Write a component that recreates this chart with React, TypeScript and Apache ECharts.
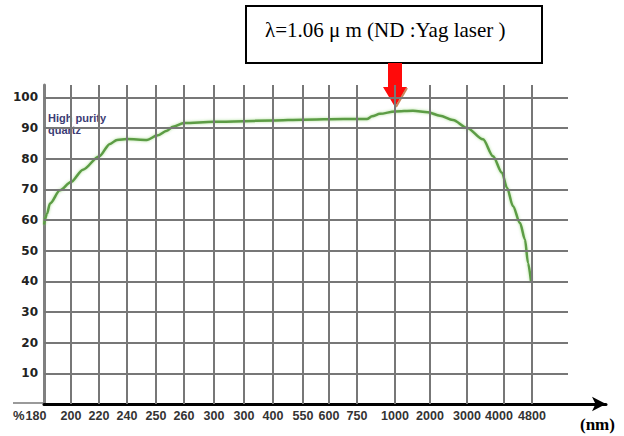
import React, { useEffect, useRef } from "react";
import * as echarts from "echarts";

// Wavelength labels printed under the vertical grid lines (nm)
const wavelengthLabels = [
  "180", "200", "220", "240", "250", "260", "300", "300", "400",
  "550", "600", "750", "1000", "2000", "3000", "4000", "4800",
];
// Position of each wavelength mark along the (non-linear) printed scale
const wavelengthMarks = [0, 27, 55, 83, 112, 140, 170, 200, 229, 259, 285, 313, 351, 386, 423, 460, 488];

// Transmission curve of high purity quartz: scale position -> transmission (%)
const curvePos = [
  0, 3, 6, 16, 27, 39, 55, 66, 73, 83, 103, 113, 123, 129, 140, 170, 229, 259,
  300, 323, 328, 336, 351, 369, 384, 396, 409, 423, 439, 449, 458, 463, 469, 476, 481, 484, 487,
];
const transmission = [
  58.5, 62, 65.4, 69.7, 72.4, 76.4, 80.7, 84.8, 86.1, 86.4, 86.1, 87.5, 89.1, 90.4, 91.6, 92.0, 92.4, 92.7,
  92.9, 92.9, 93.8, 94.6, 95.4, 95.6, 95.1, 94.0, 92.6, 90.0, 86.3, 80.8, 75.4, 70.5, 64.5, 59, 53.6, 46, 40,
];

// Horizontal grid levels (%)
const percentLevels = [10, 20, 30, 40, 50, 60, 70, 80, 90, 100];

const SCALE_MAX = 562;
const GRID_END = 524;
const Y_MAX = 104;

export default function App() {
  const ref = useRef<HTMLDivElement>(null);

  useEffect(() => {
    if (!ref.current) return;
    const chart = echarts.init(ref.current, null, { renderer: "svg" });

    const gridStyle = { color: "#777777", width: 2, type: "solid" as const };
    const gridLines: any[] = [];
    percentLevels.forEach((v) => {
      gridLines.push([{ coord: [0, v] }, { coord: [GRID_END, v] }]);
    });
    wavelengthMarks.forEach((p, i) => {
      if (i === 0) return;
      gridLines.push([{ coord: [p, 0] }, { coord: [p, Y_MAX] }]);
    });

    const labelFont = {
      fontFamily: "Liberation Sans",
      fontWeight: "bold" as const,
      fontSize: 12.5,
      color: "#333333",
    };

    const option: any = {
      animation: false,
      backgroundColor: "#ffffff",
      grid: { left: 44, right: 18, top: 85, bottom: 32, containLabel: false },
      xAxis: {
        type: "value",
        min: 0,
        max: SCALE_MAX,
        splitLine: { show: false },
        axisTick: { show: false },
        axisLine: {
          show: true,
          symbol: ["none", "arrow"],
          symbolSize: [11, 14],
          lineStyle: { color: "#000000", width: 3 },
        },
        axisLabel: {
          customValues: wavelengthMarks,
          interval: 0,
          hideOverlap: false,
          showMinLabel: true,
          showMaxLabel: true,
          margin: 5,
          ...labelFont,
          formatter: (v: number) => {
            const i = wavelengthMarks.indexOf(v);
            if (i < 0) return "";
            if (i === 0) return "{first|" + wavelengthLabels[i] + "}";
            if (i === 15) return "{nudge|" + wavelengthLabels[i] + "}";
            return wavelengthLabels[i];
          },
          rich: {
            first: { ...labelFont, padding: [0, 16, 0, 0] },
            nudge: { ...labelFont, padding: [0, 10, 0, 0] },
          },
        },
      },
      yAxis: {
        type: "value",
        min: 0,
        max: Y_MAX,
        interval: 10,
        splitLine: { show: false },
        axisTick: { show: false },
        axisLine: { show: true, lineStyle: { color: "#808080", width: 3 } },
        axisLabel: {
          margin: 6,
          fontFamily: "DejaVu Sans",
          fontWeight: "bold",
          fontSize: 12,
          color: "#222222",
          formatter: (v: number) => (v > 0 && v <= 100 && v % 10 === 0 ? String(v) : ""),
        },
      },
      series: [
        {
          type: "line",
          data: [],
          z: 1,
          silent: true,
          markLine: {
            silent: true,
            symbol: ["none", "none"],
            label: { show: false },
            lineStyle: gridStyle,
            emphasis: { disabled: true },
            data: gridLines,
          },
        },
        {
          type: "line",
          z: 3,
          data: curvePos.map((p, i) => [p, transmission[i]]),
          showSymbol: false,
          smooth: 0.3,
          smoothMonotone: "x",
          lineStyle: {
            color: "#5c9c44",
            width: 2.5,
            shadowColor: "rgba(140, 210, 110, 0.7)",
            shadowBlur: 3,
          },
        },
      ],
      graphic: [
        // short gray baseline stub left of the vertical axis
        {
          type: "line",
          shape: { x1: 13, y1: 403, x2: 44, y2: 403 },
          style: { stroke: "#9a9a9a", lineWidth: 2 },
        },
        {
          type: "text",
          x: 13,
          y: 415,
          style: {
            text: "%",
            fontFamily: "Liberation Sans",
            fontWeight: "bold",
            fontSize: 13,
            fill: "#333333",
            verticalAlign: "middle",
          },
        },
        {
          type: "text",
          x: 48,
          y: 112,
          style: {
            text: "High purity\nquartz",
            fontFamily: "Liberation Sans",
            fontWeight: "bold",
            fontSize: 11,
            lineHeight: 12,
            fill: "#3c3c74",
          },
        },
        {
          type: "text",
          x: 580,
          y: 424,
          style: {
            text: "(nm)",
            fontFamily: "Liberation Serif",
            fontWeight: "bold",
            fontSize: 17,
            fill: "#000000",
            verticalAlign: "middle",
          },
        },
        // callout box
        {
          type: "rect",
          shape: { x: 246, y: 6, width: 296, height: 57 },
          style: { fill: "#ffffff", stroke: "#000000", lineWidth: 2 },
        },
        {
          type: "text",
          x: 265,
          y: 30,
          style: {
            text: "λ=1.06 μ m (ND :Yag laser )",
            fontFamily: "Liberation Serif",
            fontSize: 21,
            fill: "#000000",
            verticalAlign: "middle",
          },
        },
        // red pointer arrow
        {
          type: "polygon",
          shape: {
            points: [
              [388, 63], [402, 63], [402, 87], [407, 87], [395, 107], [383, 87], [388, 87],
            ],
          },
          style: { fill: "#ff0a0a" },
        },
        {
          type: "line",
          shape: { x1: 407, y1: 88, x2: 396, y2: 107 },
          style: { stroke: "#c8865c", lineWidth: 2 },
        },
      ],
    };

    chart.setOption(option);
    return () => chart.dispose();
  }, []);

  return (
    <div
      ref={ref}
      style={{ position: "fixed", left: 0, top: 0, width: 624, height: 436, background: "#fff" }}
    />
  );
}
